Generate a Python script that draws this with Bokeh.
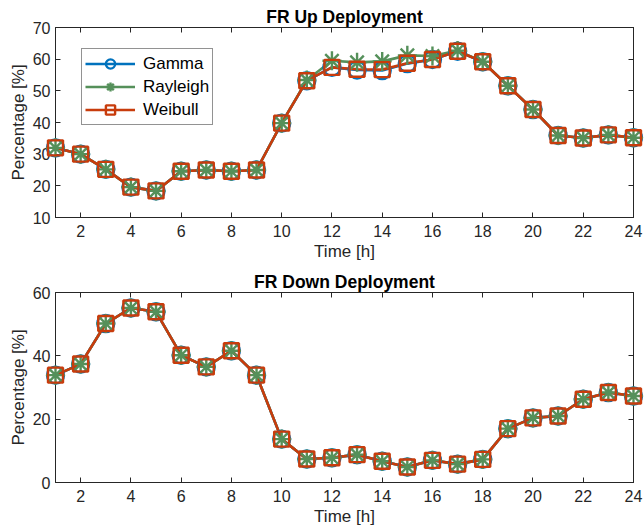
from bokeh.plotting import figure
from bokeh.layouts import column
from bokeh.models import (FixedTicker, LinearAxis, Range1d, Legend, LegendItem,
                          CustomJSTickFormatter)
from bokeh.embed import file_html
from bokeh.resources import INLINE

# Hourly deployment share for each fitted distribution
hours = list(range(1, 25))

up_gamma = [32, 30, 25.2, 19.6, 18.4, 24.6, 25, 24.6, 25, 39.8, 53.2, 57.4,
            56.6, 56.4, 58.6, 59.9, 62.5, 59.2, 51.6, 44.1, 35.9, 35.1, 36.1, 35.2]
up_rayleigh = [32, 30, 25.2, 19.6, 18.4, 24.6, 25, 24.6, 25, 39.8, 53.4, 59.5,
               59.0, 59.3, 61.2, 61.0, 62.7, 59.2, 51.6, 44.1, 35.9, 35.1, 36.1, 35.2]
up_weibull = [32, 30, 25.2, 19.6, 18.4, 24.6, 25, 24.6, 25, 39.8, 53.2, 57.4,
              56.8, 56.7, 58.7, 59.9, 62.5, 59.2, 51.6, 44.1, 35.9, 35.1, 36.1, 35.2]

down_gamma = [33.9, 37.4, 50.2, 55.1, 53.9, 40.2, 36.5, 41.6, 33.9, 13.7, 7.4, 7.8,
              8.8, 6.7, 4.9, 7.0, 5.8, 7.3, 17.0, 20.4, 21.0, 26.3, 28.4, 27.3]
down_rayleigh = [33.9, 37.4, 50.2, 55.1, 53.9, 40.2, 36.5, 41.6, 33.9, 13.7, 7.4, 7.8,
                 8.8, 6.7, 4.9, 7.0, 5.8, 7.3, 17.0, 20.4, 21.0, 26.3, 28.4, 27.3]
down_weibull = [33.9, 37.4, 50.2, 55.1, 53.9, 40.2, 36.5, 41.6, 33.9, 13.7, 7.4, 7.8,
                8.8, 6.7, 4.9, 7.0, 5.8, 7.3, 17.0, 20.4, 21.0, 26.3, 28.4, 27.3]

x_ticks = [2, 4, 6, 8, 10, 12, 14, 16, 18, 20, 22, 24]
up_y_ticks = [10, 20, 30, 40, 50, 60, 70]
down_y_ticks = [0, 20, 40, 60]

series_names = ["Gamma", "Rayleigh", "Weibull"]
colors = ["#0072BD", "#55905A", "#C83C0C"]
markers = ["circle", "asterisk", "square"]
marker_sizes = [17, 19, 15]

FONT = "Liberation Sans"
INK = "#262626"


def style_axis(ax, ticks, show_labels):
    ax.ticker = FixedTicker(ticks=ticks)
    ax.axis_line_color = INK
    ax.axis_line_width = 1
    ax.major_tick_line_color = INK
    ax.major_tick_in = 5
    ax.major_tick_out = 0
    ax.minor_tick_line_color = None
    ax.major_label_text_font = FONT
    ax.major_label_text_font_size = "16px"
    ax.major_label_text_color = INK
    if not show_labels:
        ax.formatter = CustomJSTickFormatter(code="return ''")
        ax.major_label_standoff = 0


def make_panel(title, values, y0, y1, y_ticks, with_legend):
    p = figure(width=644, height=265, x_range=Range1d(1, 24), y_range=Range1d(y0, y1),
               output_backend="svg", toolbar_location=None,
               min_border_left=55, min_border_right=11,
               min_border_top=27, min_border_bottom=48)
    p.title.text = title
    p.title.align = "center"
    p.title.text_font = FONT
    p.title.text_font_size = "17.5px"
    p.title.text_font_style = "bold"
    p.title.text_color = "#000000"
    p.title.standoff = 2
    p.xgrid.visible = False
    p.ygrid.visible = False
    p.outline_line_color = INK
    p.background_fill_color = "white"
    p.border_fill_color = "white"

    style_axis(p.xaxis[0], x_ticks, True)
    style_axis(p.yaxis[0], y_ticks, True)
    p.xaxis.axis_label = "Time [h]"
    p.yaxis.axis_label = "Percentage [%]"
    for ax in (p.xaxis[0], p.yaxis[0]):
        ax.axis_label_text_font = FONT
        ax.axis_label_text_font_size = "17px"
        ax.axis_label_text_font_style = "normal"
        ax.axis_label_text_color = INK
    p.xaxis.major_label_standoff = 7
    p.xaxis.axis_label_standoff = 2
    p.yaxis.major_label_standoff = 5
    p.yaxis.axis_label_standoff = 2

    top_axis = LinearAxis()
    style_axis(top_axis, x_ticks, False)
    p.add_layout(top_axis, "above")
    right_axis = LinearAxis()
    style_axis(right_axis, y_ticks, False)
    p.add_layout(right_axis, "right")

    items = []
    for name, ys, color, marker, size in zip(series_names, values, colors, markers, marker_sizes):
        line_r = p.line(hours, ys, line_color=color, line_width=2.6)
        dots = p.scatter(hours, ys, marker=marker, size=size, fill_color=None,
                         line_color=color, line_width=2.4)
        dots.level = "overlay"
        items.append(LegendItem(label=name, renderers=[line_r, dots]))

    if with_legend:
        legend = Legend(items=items, location=(26, 92))
        legend.border_line_color = INK
        legend.border_line_width = 1
        legend.background_fill_color = "white"
        legend.background_fill_alpha = 1
        legend.label_text_font = FONT
        legend.label_text_font_size = "17px"
        legend.label_text_color = "#000000"
        legend.glyph_width = 50
        legend.glyph_height = 23
        legend.label_height = 23
        legend.label_standoff = 8
        legend.spacing = 0
        legend.padding = 3
        legend.margin = 0
        p.add_layout(legend)
    return p


top = make_panel("FR Up Deployment", [up_gamma, up_rayleigh, up_weibull],
                 10, 70, up_y_ticks, True)
bottom = make_panel("FR Down Deployment", [down_gamma, down_rayleigh, down_weibull],
                    0, 60, down_y_ticks, False)

layout = column(top, bottom, spacing=0)
open("out.html", "w").write(file_html(layout, INLINE))
